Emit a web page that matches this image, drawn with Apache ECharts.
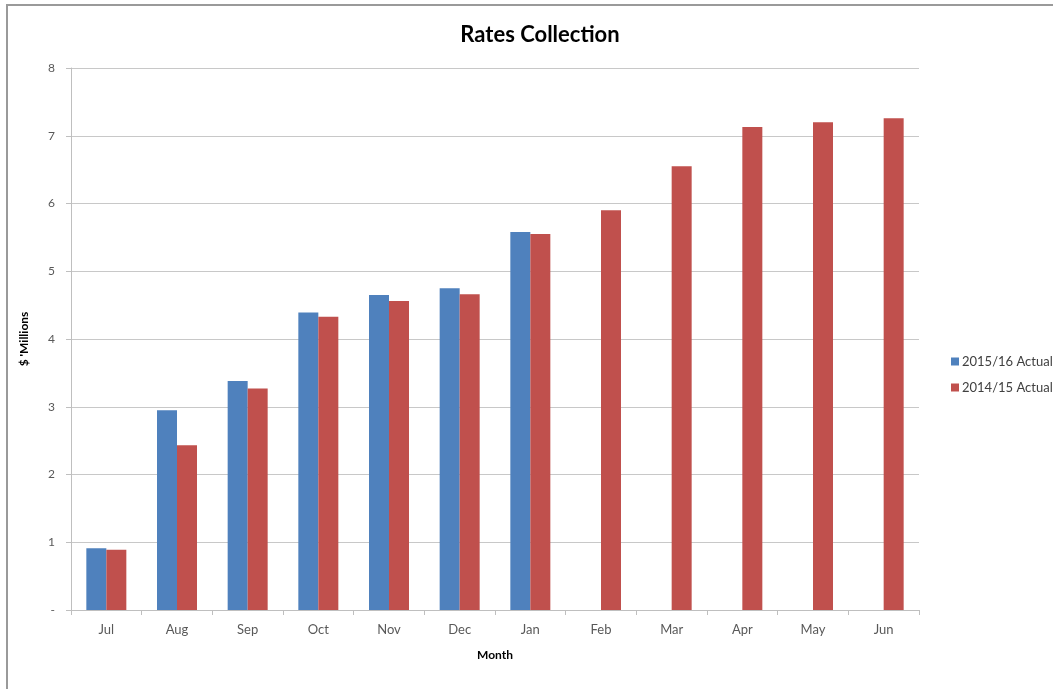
<!DOCTYPE html>
<html>
<head>
<meta charset="utf-8">
<title>Rates Collection</title>
<script src="https://cdn.jsdelivr.net/npm/echarts@6/dist/echarts.min.js"></script>
<style>
  html, body { margin: 0; padding: 0; background: #ffffff; }
  #chart { width: 1053px; height: 689px; }
</style>
</head>
<body>
<div id="chart"></div>
<script>
// Months of the financial year
const months = ['Jul', 'Aug', 'Sep', 'Oct', 'Nov', 'Dec', 'Jan', 'Feb', 'Mar', 'Apr', 'May', 'Jun'];

// Cumulative rates collected, $ millions
const actual2015_16 = [0.91, 2.95, 3.38, 4.39, 4.65, 4.75, 5.58, null, null, null, null, null];
const actual2014_15 = [0.89, 2.43, 3.27, 4.33, 4.56, 4.66, 5.55, 5.90, 6.55, 7.13, 7.20, 7.26];

const seriesNames = ['2015/16 Actual', '2014/15 Actual'];
const seriesColors = ['#4f81bd', '#c0504d'];

const fontFamily = 'Lato, "Open Sans", "Noto Sans", sans-serif';

const chart = echarts.init(document.getElementById('chart'), null, { renderer: 'canvas' });

chart.setOption({
  animation: false,
  backgroundColor: '#ffffff',
  textStyle: { fontFamily: fontFamily },
  graphic: [{
    type: 'rect',
    shape: { x: 7, y: 5, width: 1060, height: 700 },
    style: { fill: 'none', stroke: '#9a9a9a', lineWidth: 2 },
    silent: true,
    z: -1
  }],
  title: {
    text: 'Rates Collection',
    left: 535,
    textAlign: 'center',
    top: 19,
    textStyle: { fontFamily: fontFamily, fontSize: 22, fontWeight: 'bold', color: '#000000' }
  },
  legend: {
    orient: 'vertical',
    left: 946,
    top: 350,
    itemWidth: 8,
    itemHeight: 8,
    itemGap: 13,
    icon: 'rect',
    textStyle: { fontFamily: fontFamily, fontSize: 13, color: '#404040', padding: [0, 0, 0, -2] },
    data: seriesNames
  },
  grid: { left: 71, right: 134, top: 68, bottom: 79, containLabel: false },
  xAxis: {
    type: 'category',
    data: months,
    name: 'Month',
    nameLocation: 'middle',
    nameGap: 39,
    nameTextStyle: { fontFamily: fontFamily, fontSize: 12, fontWeight: 'bold', color: '#000000' },
    axisLine: { lineStyle: { color: '#bfbfbf', width: 1 } },
    axisTick: { show: true, alignWithLabel: false, length: 5, lineStyle: { color: '#bfbfbf' } },
    axisLabel: { fontFamily: fontFamily, fontSize: 13, color: '#595959', margin: 13 }
  },
  yAxis: {
    type: 'value',
    min: 0,
    max: 8,
    interval: 1,
    name: "$ 'Millions",
    nameLocation: 'middle',
    nameRotate: 90,
    nameGap: 41,
    nameTextStyle: { fontFamily: fontFamily, fontSize: 12, fontWeight: 'bold', color: '#000000' },
    axisLine: { show: true, lineStyle: { color: '#bfbfbf', width: 1 } },
    axisTick: { show: true, length: 5, lineStyle: { color: '#bfbfbf' } },
    axisLabel: {
      fontFamily: fontFamily, fontSize: 12, color: '#595959', margin: 16,
      formatter: function (v) { return v === 0 ? '-' : String(v); }
    },
    splitLine: { show: true, lineStyle: { color: '#c8c8c8', width: 1 } }
  },
  series: [
    {
      name: seriesNames[0],
      type: 'bar',
      data: actual2015_16,
      barWidth: 20,
      barGap: '0%',
      itemStyle: { color: seriesColors[0] }
    },
    {
      name: seriesNames[1],
      type: 'bar',
      data: actual2014_15,
      barWidth: 20,
      barGap: '0%',
      itemStyle: { color: seriesColors[1] }
    }
  ]
});
</script>
</body>
</html>
